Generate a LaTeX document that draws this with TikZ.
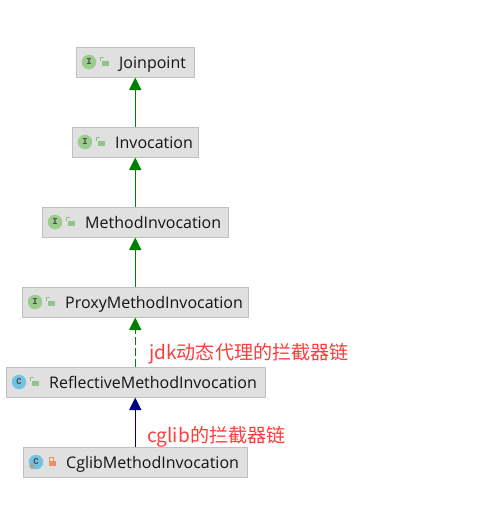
\documentclass[tikz,border=0pt]{standalone}
\usepackage{fontspec}
\setmainfont{Open Sans}
\newfontfamily\cjk{Noto Sans CJK SC}
\newfontfamily\iconfont{Liberation Mono}
\usetikzlibrary{arrows.meta,shapes.geometric}
\definecolor{boxfill}{HTML}{E0E0E0}
\definecolor{boxline}{HTML}{C0C0C0}
\definecolor{ifacecol}{HTML}{9CCB8E}
\definecolor{classcol}{HTML}{72C2E0}
\definecolor{lockgreen}{HTML}{8FC48A}
\definecolor{lockorange}{HTML}{EE8F5F}
\definecolor{notered}{HTML}{FF3B3B}
\tikzset{
  umlbox/.style={draw=boxline,fill=boxfill,line width=1pt,minimum height=30pt,inner sep=0pt},
  umltext/.style={anchor=base west,yshift=-6.3pt,inner sep=0pt,text=black!92,font=\fontsize{16}{19}\selectfont},
  kindicon/.style={circle,minimum size=14.5pt,inner sep=0pt,text=black!70,font=\iconfont\fontsize{9}{10}\selectfont\bfseries},
  iface/.style={kindicon,fill=ifacecol},
  klass/.style={kindicon,fill=classcol},
  lockbody/.style={minimum width=7pt,minimum height=5.5pt,inner sep=0pt},
  note/.style={anchor=west,inner sep=0pt,text=notered,font=\cjk\fontsize{19.1}{22}\selectfont},
  extends/.style={-{Triangle[width=12pt,length=12.5pt]},line width=1pt,draw=green!50!black},
  subclass/.style={-{Triangle[width=12pt,length=12.5pt]},line width=1pt,draw=blue!50!black},
  implements/.style={extends,dash pattern=on 8pt off 3pt},
  shackle/.style={draw=lockgreen,line width=1.1pt}
}
\begin{document}
\begin{tikzpicture}[x=1pt,y=-1pt]
    \useasboundingbox (0,0) rectangle (503,506);
    % boxes, starting from the top
    \node[umlbox,minimum width=118.5pt] (joinpoint) at (135.25,62) {};
    \node[umlbox,minimum width=126.5pt] (invocation) at (135.25,142) {};
    \node[umlbox,minimum width=186.5pt] (method) at (135.25,222) {};
    \node[umlbox,minimum width=226.5pt] (proxy) at (135.25,302) {};
    \node[umlbox,minimum width=259.5pt] (reflective) at (135.75,382) {};
    \node[umlbox,minimum width=224.5pt] (cglib) at (135.25,462) {};
    % names
    \node[umltext] (joinpointname) at (119,62) {Joinpoint};
    \node[umltext] (invocationname) at (115,142) {Invocation};
    \node[umltext] (methodname) at (85,222) {MethodInvocation};
    \node[umltext] (proxyname) at (65,302) {ProxyMethodInvocation};
    \node[umltext] (reflectivename) at (49,382) {ReflectiveMethodInvocation};
    \node[umltext] (cglibname) at (66,462) {CglibMethodInvocation};
    % kind icons
    \node[iface] (joinpointicon) at (89,62) {I};
    \node[iface] (invocationicon) at (85,142) {I};
    \node[iface] (methodicon) at (55,222) {I};
    \node[iface] (proxyicon) at (35,302) {I};
    \node[klass] (reflectiveicon) at (19,382) {C};
    \node[klass] (cglibicon) at (36,462) {C};
    \node[diamond,aspect=1,fill=gray!70,minimum size=6pt,inner sep=0pt] (cglibmark) at (32,466.5) {};
    % locks, open ones have the shackle on the left
    \node[lockbody,fill=lockgreen] (joinpointlock) at (105,63.5) {};
    \draw[shackle] (joinpointlock.north west) ++(-.5,0) -- ++(0,-3) -- ++(3,0);
    \node[lockbody,fill=lockgreen] (invocationlock) at (101,143.5) {};
    \draw[shackle] (invocationlock.north west) ++(-.5,0) -- ++(0,-3) -- ++(3,0);
    \node[lockbody,fill=lockgreen] (methodlock) at (71,223.5) {};
    \draw[shackle] (methodlock.north west) ++(-.5,0) -- ++(0,-3) -- ++(3,0);
    \node[lockbody,fill=lockgreen] (proxylock) at (51,303.5) {};
    \draw[shackle] (proxylock.north west) ++(-.5,0) -- ++(0,-3) -- ++(3,0);
    \node[lockbody,fill=lockgreen] (reflectivelock) at (35,383.5) {};
    \draw[shackle] (reflectivelock.north west) ++(-.5,0) -- ++(0,-3) -- ++(3,0);
    \node[lockbody,fill=lockorange] (cgliblock) at (52,463.5) {};
    \draw[shackle,draw=lockorange] (cgliblock.north west) ++(1.5,0) -- ++(0,-3) -- ++(4,0) -- ++(0,3);
    % inheritance arrows
    \draw[extends] (invocation.north -| joinpoint.south) -- (joinpoint.south);
    \draw[extends] (method.north) -- (invocation.south);
    \draw[extends] (proxy.north) -- (method.south);
    \draw[implements] (reflective.north -| proxy.south) -- (proxy.south);
    \draw[subclass] (cglib.north) -- (reflective.south -| cglib.north);
    % red remarks
    \node[note] (jdknote) at (149,354) {jdk动态代理的拦截器链};
    \node[note] (cglibnote) at (147,436.5) {cglib的拦截器链};
\end{tikzpicture}
\end{document}
